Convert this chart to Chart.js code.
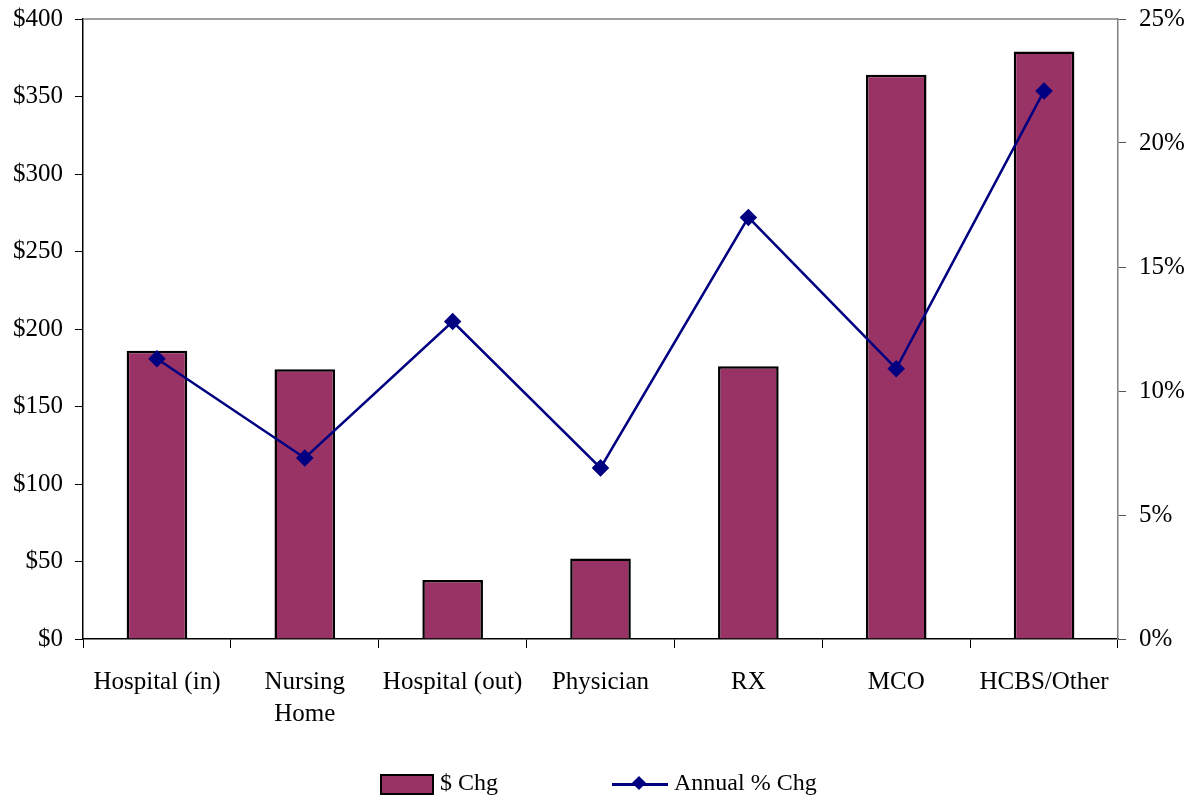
<!DOCTYPE html>
<html>
<head>
<meta charset="utf-8">
<script src="https://cdn.jsdelivr.net/npm/chart.js@4.4.1/dist/chart.umd.min.js"></script>
<style>
  body { margin: 0; background: #fff; }
  #wrap { position: relative; width: 1199px; height: 796px; }
  .legend { position: absolute; top: 768px; left: 0; font-family: "Liberation Serif", "Times New Roman", serif; font-size: 24px; color: #000; }
  .item { position: absolute; white-space: nowrap; line-height: 28px; }
  .swatch { display: inline-block; width: 50px; height: 17px; background: #993366; border: 2px solid #000; vertical-align: middle; margin-right: 6px; }
  .lineKey { display: inline-block; position: relative; width: 56px; height: 20px; vertical-align: middle; margin-right: 6px; }
  .lineKey:before { content: ""; position: absolute; left: 0; right: 0; top: 9px; height: 2.5px; background: #000080; }
  .lineKey:after { content: ""; position: absolute; left: 22px; top: 4px; width: 10px; height: 10px; background: #000080; transform: rotate(45deg); }
</style>
</head>
<body>
<div id="wrap">
  <canvas id="costChart" width="1199" height="796"></canvas>
  <div class="legend">
    <div class="item" style="left:380px;"><span class="swatch"></span>$ Chg</div>
    <div class="item" style="left:612px;"><span class="lineKey"></span>Annual % Chg</div>
  </div>
</div>
<script>
const categories = ['Hospital (in)', ['Nursing', 'Home'], 'Hospital (out)', 'Physician', 'RX', 'MCO', 'HCBS/Other'];
const dollarChg = [186, 174, 38, 52, 176, 364, 379];
const pctChg = [11.3, 7.3, 12.8, 6.9, 17.0, 10.9, 22.1];

const serif = '"Liberation Serif", "Times New Roman", serif';

// gray top border of the plot area
const topBorder = {
  id: 'topBorder',
  afterDraw(chart) {
    const { ctx, chartArea } = chart;
    ctx.save();
    ctx.strokeStyle = '#808080';
    ctx.lineWidth = 1.5;
    ctx.beginPath();
    ctx.moveTo(chartArea.left, chartArea.top);
    ctx.lineTo(chartArea.right, chartArea.top);
    ctx.stroke();
    ctx.restore();
  }
};

// keep the plot box fixed no matter how far the labels stick out
function fixY(width) {
  return scale => {
    scale.width = width;
    scale.paddingTop = 0;
    scale.paddingBottom = 0;
  };
}

const ctx = document.getElementById('costChart').getContext('2d');
new Chart(ctx, {
  data: {
    labels: categories,
    datasets: [
      {
        type: 'line',
        label: 'Annual % Chg',
        data: pctChg,
        yAxisID: 'y1',
        borderColor: '#000080',
        backgroundColor: '#000080',
        borderWidth: 2.5,
        pointStyle: 'rectRot',
        pointRadius: 7,
        pointHoverRadius: 7,
        tension: 0,
        order: 0
      },
      {
        type: 'bar',
        label: '$ Chg',
        data: dollarChg,
        yAxisID: 'y',
        backgroundColor: '#993366',
        borderColor: '#000',
        borderWidth: 2.5,
        borderSkipped: 'bottom',
        categoryPercentage: 1,
        barPercentage: 0.41,
        order: 1
      }
    ]
  },
  options: {
    responsive: false,
    animation: false,
    layout: { padding: { top: 19, bottom: 0, left: 0, right: 0 } },
    plugins: { legend: { display: false }, tooltip: { enabled: false } },
    scales: {
      x: {
        offset: true,
        grid: { offset: true, drawOnChartArea: false, color: '#000', tickLength: 9 },
        border: { color: '#000', width: 1.5 },
        ticks: { color: '#000', font: { family: serif, size: 25, lineHeight: 1.3 }, padding: 18, maxRotation: 0, autoSkip: false },
        afterFit(scale) {
          scale.height = 157;
          scale.paddingLeft = 0;
          scale.paddingRight = 0;
        }
      },
      y: {
        position: 'left',
        min: 0, max: 400,
        ticks: { stepSize: 50, color: '#000', font: { family: serif, size: 25 }, padding: 12, callback: v => '$' + v },
        grid: { drawOnChartArea: false, color: '#000', tickLength: 8 },
        border: { color: '#000', width: 1.5 },
        afterFit: fixY(83)
      },
      y1: {
        position: 'right',
        min: 0, max: 25,
        ticks: { stepSize: 5, color: '#000', font: { family: serif, size: 25 }, padding: 13, callback: v => v + '%' },
        grid: { drawOnChartArea: false, color: '#555', tickLength: 8 },
        border: { color: '#808080', width: 1.5 },
        afterFit: fixY(81)
      }
    }
  },
  plugins: [topBorder]
});
</script>
</body>
</html>
